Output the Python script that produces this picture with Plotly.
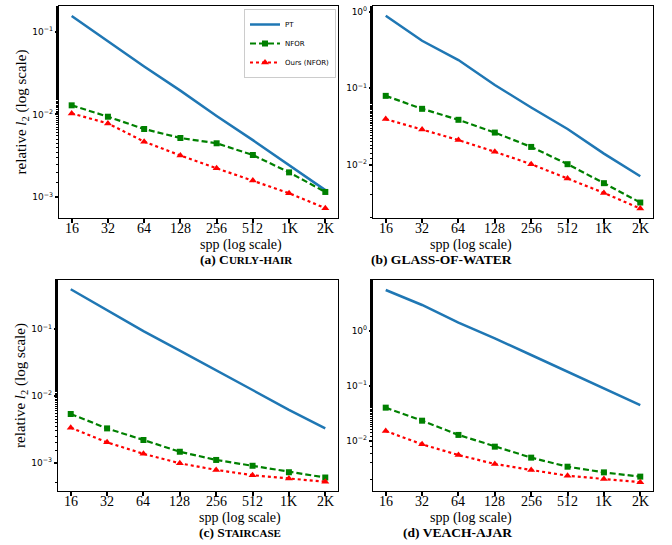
import plotly.graph_objects as go

# samples per pixel
spp = ["16", "32", "64", "128", "256", "512", "1K", "2K"]

# relative l2 error per scene
curly_pt = [0.155, 0.076, 0.038, 0.0194, 0.0096, 0.0049, 0.00245, 0.00122]
curly_nfor = [0.0129, 0.0094, 0.00668, 0.0052, 0.00449, 0.00324, 0.0020, 0.00116]
curly_ours = [0.0103, 0.0078, 0.0047, 0.0032, 0.00224, 0.0016, 0.00112, 0.00074]

glass_pt = [0.887, 0.417, 0.233, 0.110, 0.0558, 0.0292, 0.0139, 0.00703]
glass_nfor = [0.0792, 0.0536, 0.0385, 0.0262, 0.0170, 0.0101, 0.0057, 0.00318]
glass_ours = [0.0393, 0.0288, 0.0209, 0.0147, 0.0101, 0.00656, 0.00425, 0.00265]

stair_pt = [0.398, 0.194, 0.094, 0.048, 0.024, 0.0123, 0.0062, 0.00327]
stair_nfor = [0.00537, 0.00327, 0.00219, 0.00146, 0.0011, 0.0009, 0.00072, 0.0006]
stair_ours = [0.00335, 0.00202, 0.00136, 0.00098, 0.00078, 0.00065, 0.00058, 0.00052]

veach_pt = [5.56, 2.97, 1.42, 0.736, 0.366, 0.182, 0.0908, 0.0451]
veach_nfor = [0.0404, 0.0234, 0.0129, 0.00789, 0.00498, 0.00341, 0.00269, 0.00225]
veach_ours = [0.0152, 0.0087, 0.00556, 0.00382, 0.00297, 0.00234, 0.00204, 0.00178]

series_names = ["PT", "NFOR", "Ours (NFOR)"]

sc = "<span style='font-size:11px'>"
panels = [
    dict(data=(curly_pt, curly_nfor, curly_ours), yr=[-3.25, -0.69],
         ticks=[1e-3, 1e-2, 1e-1], ticktext=["10<sup>−3</sup>", "10<sup>−2</sup>", "10<sup>−1</sup>"],
         xd=[59 / 672, 338 / 672], yd=[1 - 218 / 545, 1 - 6 / 545],
         caption=f"(a) C{sc}URLY</span>-{sc}HAIR</span>",
         ytitle=True),
    dict(data=(glass_pt, glass_nfor, glass_ours), yr=[-2.70, 0.075],
         ticks=[1e-2, 1e-1, 1], ticktext=["10<sup>−2</sup>", "10<sup>−1</sup>", "10<sup>0</sup>"],
         xd=[373 / 672, 653 / 672], yd=[1 - 218 / 545, 1 - 6 / 545],
         caption="(b) GLASS-OF-WATER", ytitle=False),
    dict(data=(stair_pt, stair_nfor, stair_ours), yr=[-3.424, -0.261],
         ticks=[1e-3, 1e-2, 1e-1], ticktext=["10<sup>−3</sup>", "10<sup>−2</sup>", "10<sup>−1</sup>"],
         xd=[58 / 672, 338 / 672], yd=[1 - 491 / 545, 1 - 280 / 545],
         caption=f"(c) S{sc}TAIRCASE</span>", ytitle=True),
    dict(data=(veach_pt, veach_nfor, veach_ours), yr=[-2.909, 0.927],
         ticks=[1e-2, 1e-1, 1], ticktext=["10<sup>−2</sup>", "10<sup>−1</sup>", "10<sup>0</sup>"],
         xd=[373 / 672, 653 / 672], yd=[1 - 491 / 545, 1 - 280 / 545],
         caption="(d) VEACH-AJAR", ytitle=False),
]

styles = [
    dict(line=dict(color="#1f77b4", width=2.5, dash="solid"), mode="lines"),
    dict(line=dict(color="#008000", width=2.2, dash="6px,3px"), mode="lines+markers",
         marker=dict(symbol="square", size=6, color="#008000")),
    dict(line=dict(color="#ff0000", width=2.2, dash="dot"), mode="lines+markers",
         marker=dict(symbol="triangle-up", size=7, color="#ff0000")),
]

serif = "Liberation Serif, DejaVu Serif, serif"
sans = "DejaVu Sans, sans-serif"

fig = go.Figure()
layout = dict(
    width=672, height=545, margin=dict(l=0, r=0, t=0, b=0),
    paper_bgcolor="white", plot_bgcolor="white",
    legend=dict(x=336 / 672, xanchor="right", y=1 - 9 / 545, yanchor="top",
                bgcolor="white", bordercolor="#cccccc", borderwidth=1,
                font=dict(family=sans, size=7, color="black"),
                tracegroupgap=0, itemwidth=30),
)
annotations = []

for i, p in enumerate(panels):
    n = i + 1
    xa = "x" if n == 1 else f"x{n}"
    ya = "y" if n == 1 else f"y{n}"
    for j, (vals, st) in enumerate(zip(p["data"], styles)):
        fig.add_trace(go.Scatter(
            x=spp, y=vals, name=series_names[j], xaxis=xa, yaxis=ya,
            showlegend=(i == 0), **st))
    xkey = "xaxis" if n == 1 else f"xaxis{n}"
    ykey = "yaxis" if n == 1 else f"yaxis{n}"
    layout[xkey] = dict(
        domain=p["xd"], anchor=ya, type="category", range=[-0.35, 7.35],
        showline=True, linecolor="black", linewidth=1.2, mirror=True,
        ticks="outside", ticklen=4, tickwidth=1.5, tickcolor="black",
        showgrid=False, zeroline=False, showticklabels=False,
    )
    layout[ykey] = dict(
        domain=p["yd"], anchor=xa, type="log", range=p["yr"],
        showline=True, linecolor="black", linewidth=1.2, mirror=True,
        tickvals=p["ticks"], ticktext=p["ticktext"],
        ticks="outside", ticklen=3, tickwidth=1.5, tickcolor="black",
        minor=dict(ticks="outside", ticklen=2, tickwidth=0.8, tickcolor="black", showgrid=False),
        showgrid=False, zeroline=False,
        tickfont=dict(family=sans, size=9, color="black"),
    )
    if p["ytitle"]:
        layout[ykey]["title"] = dict(
            text="relative <i>l</i><sub>2</sub> (log scale)",
            font=dict(family=serif, size=15, color="black"), standoff=2)
    bottom_px = (1 - p["yd"][0]) * 545
    # category tick labels, placed at each category index of the x axis
    for k, lab in enumerate(spp):
        annotations.append(dict(
            text=lab, x=k, xref=xa, y=1 - (bottom_px + 10) / 545, yref="paper",
            yanchor="middle", showarrow=False, borderpad=0,
            font=dict(family=serif, size=14, color="black")))
    xc = (p["xd"][0] + p["xd"][1]) / 2
    annotations.append(dict(
        text="spp (log scale)", x=xc, xref="paper",
        y=1 - (bottom_px + 26.5) / 545, yref="paper", yanchor="middle", showarrow=False,
        borderpad=0, font=dict(family=serif, size=14, color="black")))
    annotations.append(dict(
        text="<b>" + p["caption"] + "</b>", x=xc, xref="paper",
        y=1 - (bottom_px + 41.5) / 545, yref="paper", yanchor="middle", showarrow=False,
        borderpad=0, font=dict(family=serif, size=13.5, color="black")))

layout["annotations"] = annotations
fig.update_layout(**layout)
fig.write_html("out.html")
